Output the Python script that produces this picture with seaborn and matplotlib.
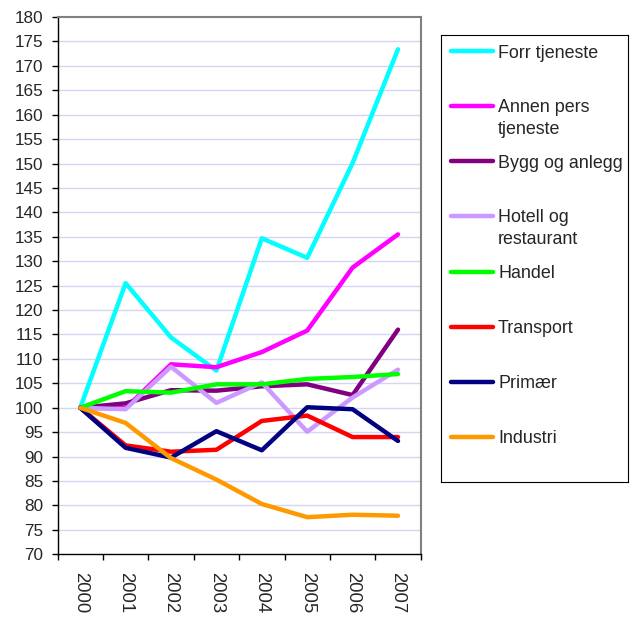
import matplotlib
matplotlib.use("Agg")
import matplotlib.pyplot as plt
import seaborn as sns
import pandas as pd
import numpy as np

years = ["2000", "2001", "2002", "2003", "2004", "2005", "2006", "2007"]
series_names = ["Forr tjeneste", "Annen pers\ntjeneste", "Bygg og anlegg",
                "Hotell og\nrestaurant", "Handel", "Transport", "Primær", "Industri"]
forr = [100, 125.5, 114.4, 107.6, 134.7, 130.7, 150.1, 173.4]
annen = [100, 99.9, 108.9, 108.3, 111.4, 115.8, 128.7, 135.5]
bygg = [100, 100.9, 103.6, 103.5, 104.4, 104.8, 102.6, 116.0]
hotell = [100, 99.7, 108.4, 101.0, 105.2, 95.1, 102.1, 107.8]
handel = [100, 103.4, 103.1, 104.8, 104.8, 105.9, 106.3, 106.9]
transport = [100, 92.3, 91.0, 91.4, 97.3, 98.4, 94.0, 94.0]
primaer = [100, 91.8, 89.8, 95.2, 91.3, 100.1, 99.7, 93.2]
industri = [100, 96.9, 89.7, 85.3, 80.3, 77.6, 78.1, 77.9]
values = [forr, annen, bygg, hotell, handel, transport, primaer, industri]
colors = ["#00FFFF", "#FF00FF", "#800080", "#CC99FF", "#00FF00", "#FF0000", "#000080", "#FF9900"]

rows = []
for name, vals in zip(series_names, values):
    for i, v in enumerate(vals):
        rows.append({"idx": i, "year": years[i], "value": v, "series": name})
df = pd.DataFrame(rows)

sns.set_style("white")
plt.rcParams['font.family'] = ['Liberation Sans', 'DejaVu Sans']

fig = plt.figure(figsize=(6.38, 6.21), dpi=100)
W, H = 638, 621
ax = fig.add_axes([57.5 / W, 1 - 554.3 / H, (420.7 - 57.5) / W, (554.3 - 17) / H])

sns.lineplot(data=df, x="idx", y="value", hue="series", hue_order=series_names,
             palette=dict(zip(series_names, colors)), linewidth=3.2, legend=False,
             sort=False, ax=ax)
for ln in ax.get_lines():
    ln.set_solid_capstyle("round")
    ln.set_solid_joinstyle("round")

ax.set_xlim(-0.5, 7.5)
ax.set_ylim(70, 180)
ax.set_yticks(np.arange(70, 181, 5))
ax.set_xticks(range(len(years)))
ax.set_xticklabels(years, rotation=-90)
ax.set_xticks(np.arange(-0.5, 8, 1), minor=True)
ax.set_xlabel("")
ax.set_ylabel("")
ax.grid(False)
for yv in np.arange(75, 180, 5):
    ax.axhline(yv, color="#D4D4F4", linewidth=1, zorder=0)

ax.tick_params(axis="y", which="major", direction="out", length=4.3, width=1,
               color="black", pad=6, labelsize=12.3, left=True)
ax.tick_params(axis="x", which="major", length=0, pad=13, labelsize=13.3, bottom=True)
ax.tick_params(axis="x", which="minor", direction="out", length=4.5, width=1,
               color="black", bottom=True)

ax.spines["left"].set_color("black")
ax.spines["bottom"].set_color("black")
ax.spines["left"].set_linewidth(1)
ax.spines["bottom"].set_linewidth(1)
for s in ["top", "right"]:
    ax.spines[s].set_color("#808080")
    ax.spines[s].set_linewidth(1.5)
    ax.spines[s].set_visible(True)

# legend box
lx0, ly0, lx1, ly1 = 441, 35, 628, 481.7
lax = fig.add_axes([lx0 / W, 1 - ly1 / H, (lx1 - lx0) / W, (ly1 - ly0) / H])
lax.set_xlim(0, lx1 - lx0)
lax.set_ylim(ly1 - ly0, 0)
lax.set_xticks([])
lax.set_yticks([])
for s in lax.spines.values():
    s.set_color("black")
    s.set_linewidth(0.8)
    s.set_visible(True)
handle_y = [16, 71, 126, 181, 237, 292, 347, 402]
for name, col, hy in zip(series_names, colors, handle_y):
    lax.plot([10, 52], [hy, hy], color=col, linewidth=3.2, solid_capstyle="round")
    for k, part in enumerate(name.split("\n")):
        lax.text(57, hy + 6.5 + 22 * k, part, fontsize=12.9, va="baseline", ha="left")

fig.savefig("out.png", dpi=100)
